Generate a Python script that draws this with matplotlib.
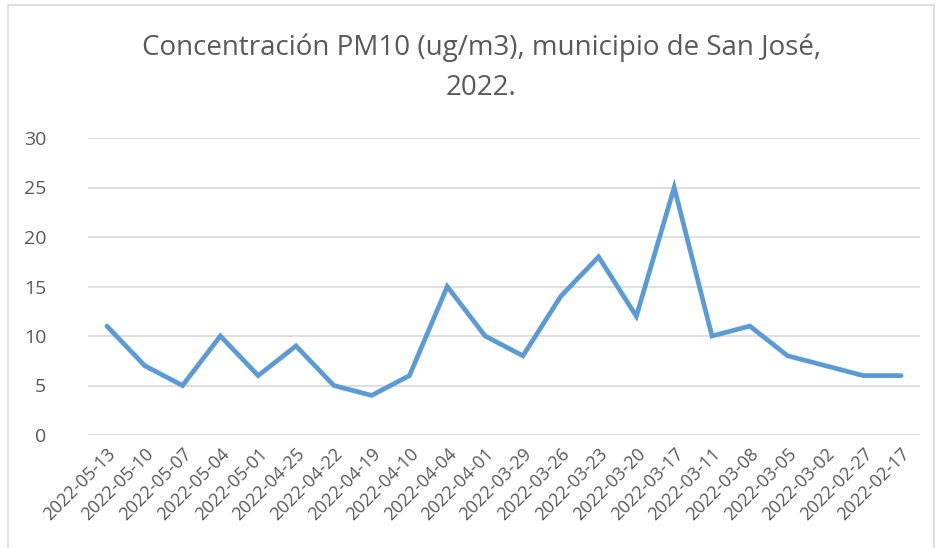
import matplotlib
matplotlib.use("Agg")
import matplotlib.pyplot as plt
from matplotlib.patches import Rectangle

# PM10 samples, San José 2022 (newest first)
fechas = ["2022-05-13", "2022-05-10", "2022-05-07", "2022-05-04", "2022-05-01",
          "2022-04-25", "2022-04-22", "2022-04-19", "2022-04-10", "2022-04-04",
          "2022-04-01", "2022-03-29", "2022-03-26", "2022-03-23", "2022-03-20",
          "2022-03-17", "2022-03-11", "2022-03-08", "2022-03-05", "2022-03-02",
          "2022-02-27", "2022-02-17"]
pm10 = [11, 7, 5, 10, 6, 9, 5, 4, 6, 15, 10, 8, 14, 18, 12, 25, 10, 11, 8, 7, 6, 6]
yticks = [0, 5, 10, 15, 20, 25, 30]

plt.rcParams['font.family'] = ['Open Sans', 'DejaVu Sans']
gris = '#595959'

W, H = 938, 548
fig = plt.figure(figsize=(W/100, H/100), dpi=100)
ax = fig.add_axes([88/W, 1-435/H, (920-88)/W, (435-138)/H])

x = list(range(len(fechas)))
ax.plot(x, pm10, color='#5b9bd5', lw=3.4, solid_joinstyle='miter', solid_capstyle='round')

ax.set_xlim(-0.5, len(fechas)-0.5)
ax.set_ylim(0, 30)
ax.set_yticks(yticks)
ax.set_yticklabels([str(v) for v in yticks], fontsize=14, color=gris)
ax.set_xticks(x)
ax.set_xticklabels(fechas, rotation=45, ha='right', rotation_mode='anchor',
                   fontsize=13, color=gris)
ax.tick_params(axis='both', length=0)
ax.tick_params(axis='y', pad=30)
ax.tick_params(axis='x', pad=7)
ax.grid(axis='y', color='#d9d9d9', lw=1.2)
ax.set_axisbelow(True)
for s in ax.spines.values():
    s.set_visible(False)

fig.text(481/W, 1-48/H, "Concentración PM10 (ug/m3), municipio de San José,",
         ha='center', va='center', fontsize=20, color=gris)
fig.text(481/W, 1-88/H, "2022.", ha='center', va='center', fontsize=20, color=gris)

# chart frame
fig.patches.append(Rectangle((8/W, -0.05), 926/W, 1-5/H+0.05, transform=fig.transFigure,
                             fill=False, edgecolor='#d9d9d9', lw=1.2))

fig.savefig("out.png", dpi=100)
